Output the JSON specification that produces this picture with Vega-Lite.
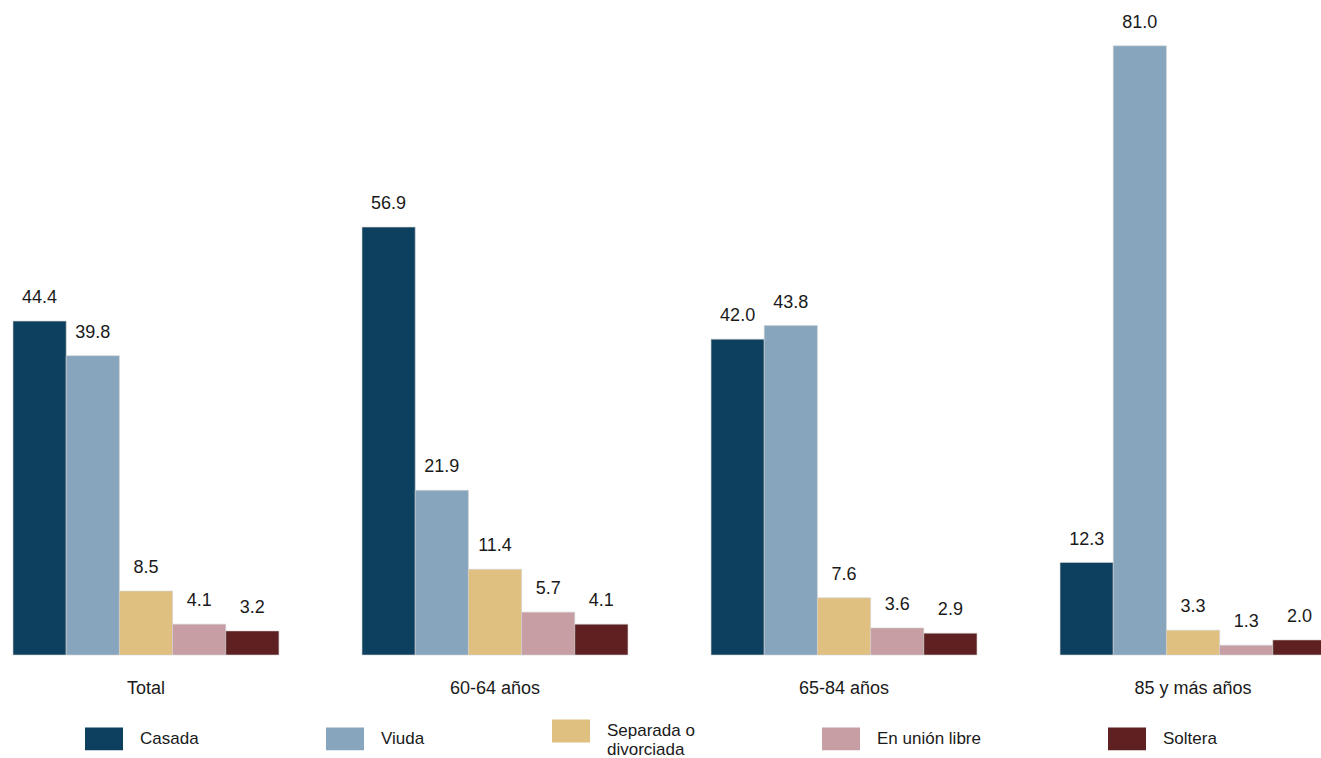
{
  "$schema": "https://vega.github.io/schema/vega-lite/v6.json",
  "autosize": {"type": "none"},
  "padding": {"left": 13, "top": 0, "right": 0, "bottom": 103},
  "width": 1313,
  "height": 655,
  "background": "white",
  "config": {"view": {"stroke": null}, "font": "Liberation Sans"},
  "data": {"values": [
    {"grupo": "Total", "estado": "Casada", "valor": 44.4},
    {"grupo": "Total", "estado": "Viuda", "valor": 39.8},
    {"grupo": "Total", "estado": "Separada o divorciada", "valor": 8.5},
    {"grupo": "Total", "estado": "En unión libre", "valor": 4.1},
    {"grupo": "Total", "estado": "Soltera", "valor": 3.2},
    {"grupo": "60-64 años", "estado": "Casada", "valor": 56.9},
    {"grupo": "60-64 años", "estado": "Viuda", "valor": 21.9},
    {"grupo": "60-64 años", "estado": "Separada o divorciada", "valor": 11.4},
    {"grupo": "60-64 años", "estado": "En unión libre", "valor": 5.7},
    {"grupo": "60-64 años", "estado": "Soltera", "valor": 4.1},
    {"grupo": "65-84 años", "estado": "Casada", "valor": 42.0},
    {"grupo": "65-84 años", "estado": "Viuda", "valor": 43.8},
    {"grupo": "65-84 años", "estado": "Separada o divorciada", "valor": 7.6},
    {"grupo": "65-84 años", "estado": "En unión libre", "valor": 3.6},
    {"grupo": "65-84 años", "estado": "Soltera", "valor": 2.9},
    {"grupo": "85 y más años", "estado": "Casada", "valor": 12.3},
    {"grupo": "85 y más años", "estado": "Viuda", "valor": 81.0},
    {"grupo": "85 y más años", "estado": "Separada o divorciada", "valor": 3.3},
    {"grupo": "85 y más años", "estado": "En unión libre", "valor": 1.3},
    {"grupo": "85 y más años", "estado": "Soltera", "valor": 2.0}
  ]},
  "encoding": {
    "x": {"field": "grupo", "type": "nominal", "sort": ["Total", "60-64 años", "65-84 años", "85 y más años"],
      "scale": {"paddingInner": 0.238, "paddingOuter": 0},
      "axis": {"title": null, "domain": false, "ticks": false, "labelAngle": 0, "labelPadding": 24, "labelFontSize": 18, "labelColor": "#1a1a1a", "labelFont": "Liberation Sans"}},
    "xOffset": {"field": "estado", "type": "nominal", "sort": ["Casada", "Viuda", "Separada o divorciada", "En unión libre", "Soltera"], "scale": {"paddingInner": 0, "paddingOuter": 0}},
    "y": {"field": "valor", "type": "quantitative", "scale": {"domain": [0, 87.1], "nice": false, "zero": true}, "axis": null}
  },
  "layer": [
    {
      "mark": {"type": "bar", "stroke": "#d0d0d0", "strokeWidth": 0.6},
      "encoding": {
        "color": {"field": "estado", "type": "nominal",
          "sort": ["Casada", "Viuda", "Separada o divorciada", "En unión libre", "Soltera"],
          "scale": {"domain": ["Casada", "Viuda", "Separada o divorciada", "En unión libre", "Soltera"],
                    "range": ["#0d3f5e", "#87a6bd", "#dfc080", "#c79ea4", "#5e2020"]},
          "legend": {"title": null, "orient": "none", "legendX": 72, "legendY": 712, "direction": "horizontal", "columns": 5,
            "symbolType": "M-1,-0.6H1V0.6H-1Z", "symbolSize": 1444, "symbolStrokeWidth": 0, "symbolOpacity": 1,
            "labelFontSize": 17, "labelColor": "#1a1a1a", "labelFont": "Liberation Sans", "labelOffset": 17, "columnPadding": 127, "labelLimit": 200,
            "labelExpr": "datum.label == 'Separada o divorciada' ? ['Separada o', 'divorciada'] : datum.label"}
        }
      }
    },
    {
      "mark": {"type": "text", "baseline": "alphabetic", "dy": -18, "fontSize": 18, "color": "#1a1a1a", "font": "Liberation Sans"},
      "encoding": {"text": {"field": "valor", "type": "quantitative", "format": ".1f"}}
    }
  ]
}
